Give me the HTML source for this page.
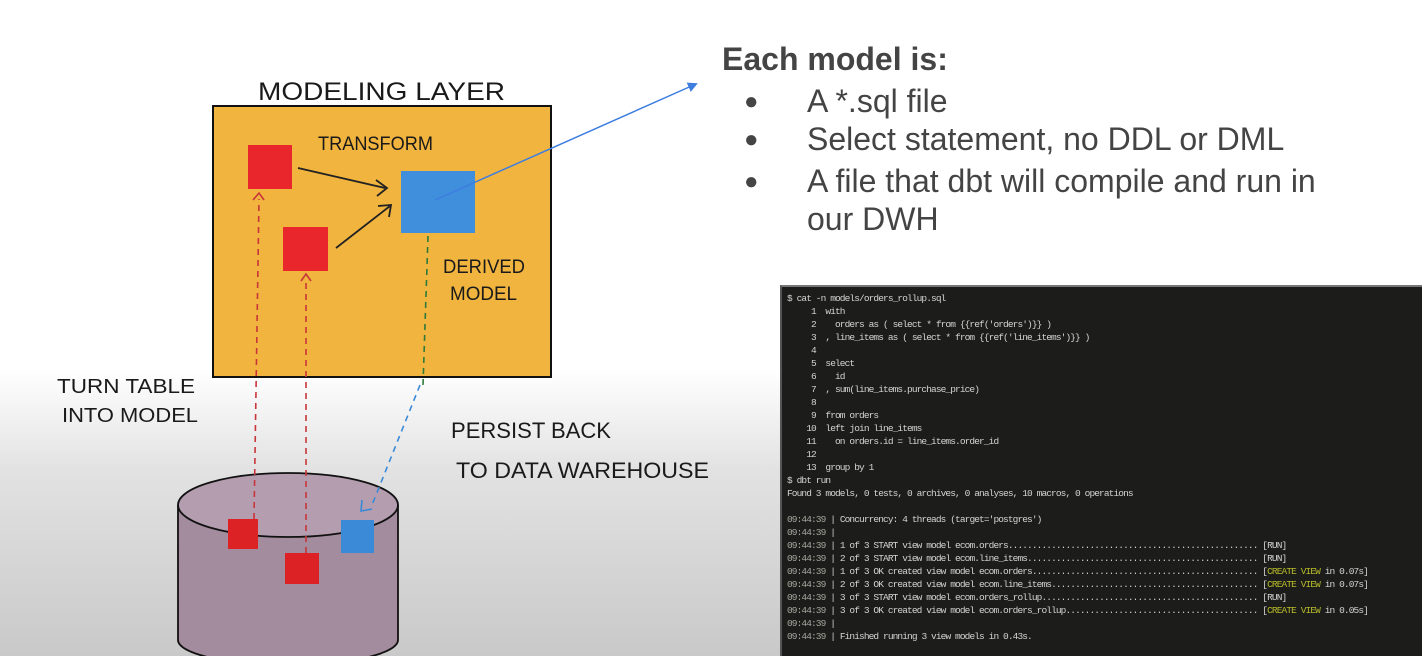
<!DOCTYPE html>
<html><head><meta charset="utf-8"><style>
html,body{margin:0;padding:0}
body{width:1422px;height:656px;overflow:hidden;position:relative;font-family:"Liberation Sans",sans-serif;
background:linear-gradient(#ffffff 0px,#ffffff 370px,#e2e2e2 470px,#c9c9c9 656px);}
svg{position:absolute;left:0;top:0}
.t{position:absolute;color:#444;font-size:32px;white-space:nowrap;line-height:1}
.b{position:absolute;color:#444;font-size:24px;line-height:1}
.term{position:absolute;left:780px;top:285px;width:642px;height:371px;background:#1c1c1a;border-left:2px solid #555;border-top:2px solid #777;box-sizing:border-box}
.term pre{margin:0;padding:5px 0 0 5px;font-family:"Liberation Mono",monospace;font-size:9.5px;letter-spacing:-0.9px;line-height:13px;color:#d4d4d4}
.g{color:#a8a8a0}.y{color:#b8bc2a}
</style></head><body>
<svg width="1422" height="656" viewBox="0 0 1422 656">
<defs>
<marker id="ab" markerWidth="10" markerHeight="10" refX="8" refY="5" orient="auto" markerUnits="userSpaceOnUse"><path d="M0,0 L10,5 L0,10 z" fill="#3d7de0"/></marker>
</defs>
<rect x="213" y="106" width="338" height="271" fill="#f1b43e"/>
<rect x="213" y="106" width="338" height="271" fill="none" stroke="#111" stroke-width="2"/>
<g font-family="Liberation Sans,sans-serif" fill="#1a1a1a" font-weight="normal">
<text x="258" y="100" font-size="25" textLength="247" lengthAdjust="spacingAndGlyphs">MODELING LAYER</text>
<text x="318" y="150" font-size="19" textLength="115" lengthAdjust="spacingAndGlyphs">TRANSFORM</text>
<text x="443" y="273" font-size="19" textLength="82" lengthAdjust="spacingAndGlyphs">DERIVED</text>
<text x="450" y="300" font-size="19" textLength="67" lengthAdjust="spacingAndGlyphs">MODEL</text>
<text x="57" y="393" font-size="20" textLength="138" lengthAdjust="spacingAndGlyphs">TURN TABLE</text>
<text x="62" y="422" font-size="20" textLength="136" lengthAdjust="spacingAndGlyphs">INTO MODEL</text>
<text x="451" y="438" font-size="22" textLength="160" lengthAdjust="spacingAndGlyphs">PERSIST BACK</text>
<text x="456" y="478" font-size="22" textLength="253" lengthAdjust="spacingAndGlyphs">TO DATA WAREHOUSE</text>
</g>
<rect x="248" y="145" width="44" height="44" fill="#e8262b"/>
<rect x="283" y="227" width="45" height="44" fill="#e8262b"/>
<rect x="401" y="171" width="74" height="62" fill="#3f8fdc"/>
<path d="M298,168 L385,188 M376,180 L387,188 L377,196" stroke="#222" stroke-width="1.8" fill="none"/>
<path d="M336,248 L390,206 M378,206 L391,205 L389,217" stroke="#222" stroke-width="1.8" fill="none"/>
<line x1="435" y1="200" x2="696" y2="84" stroke="#3d7de0" stroke-width="1.5" marker-end="url(#ab)"/>
<path d="M178,505 L178,640 A110,25 0 0 0 398,640 L398,505 Z" fill="#a38c9e"/>
<ellipse cx="288" cy="505" rx="110" ry="32" fill="#b39daf" stroke="#111" stroke-width="1.8"/>
<path d="M178,505 L178,640 A110,25 0 0 0 398,640 L398,505" fill="none" stroke="#111" stroke-width="1.8"/>
<rect x="228" y="519" width="30" height="30" fill="#dd2226"/>
<rect x="285" y="553" width="34" height="31" fill="#dd2226"/>
<rect x="341" y="520" width="33" height="33" fill="#3a8ad8"/>
<g stroke-dasharray="6,5" fill="none" stroke-width="1.6">
<path d="M254,519 L259,199" stroke="#c8353a"/>
<path d="M306,553 L306,281" stroke="#c8353a"/>
<path d="M428,236 L423,385" stroke="#2f7a3a"/>
<path d="M420,385 L372,505" stroke="#3a8ad8"/>
</g>
<path d="M253,200 L259,193 L264,200" stroke="#c8353a" stroke-width="1.6" fill="none"/>
<path d="M301,281 L306,274 L311,281" stroke="#c8353a" stroke-width="1.6" fill="none"/>
<path d="M362,500 L361,511 L372,509" stroke="#3a8ad8" stroke-width="1.6" fill="none"/>
</svg>
<div class="t" style="left:722px;top:43px;font-weight:bold;font-size:32px">Each model is:</div>
<div class="b" style="left:744px;top:90px">●</div>
<div class="t" style="left:807px;top:85px">A *.sql file</div>
<div class="b" style="left:744px;top:128px">●</div>
<div class="t" style="left:807px;top:123px">Select statement, no DDL or DML</div>
<div class="b" style="left:744px;top:170px">●</div>
<div class="t" style="left:807px;top:165px">A file that dbt will compile and run in</div>
<div class="t" style="left:807px;top:203px">our DWH</div>
<div class="term"><pre>$ cat -n models/orders_rollup.sql
     1  with
     2    orders as ( select * from {{ref('orders')}} )
     3  , line_items as ( select * from {{ref('line_items')}} )
     4
     5  select
     6    id
     7  , sum(line_items.purchase_price)
     8
     9  from orders
    10  left join line_items
    11    on orders.id = line_items.order_id
    12
    13  group by 1
$ dbt run
Found 3 models, 0 tests, 0 archives, 0 analyses, 10 macros, 0 operations

<span class="g">09:44:39</span> | Concurrency: 4 threads (target='postgres')
<span class="g">09:44:39</span> |
<span class="g">09:44:39</span> | 1 of 3 START view model ecom.orders.................................................... [RUN]
<span class="g">09:44:39</span> | 2 of 3 START view model ecom.line_items................................................ [RUN]
<span class="g">09:44:39</span> | 1 of 3 OK created view model ecom.orders............................................... [<span class="y">CREATE VIEW</span> in 0.07s]
<span class="g">09:44:39</span> | 2 of 3 OK created view model ecom.line_items........................................... [<span class="y">CREATE VIEW</span> in 0.07s]
<span class="g">09:44:39</span> | 3 of 3 START view model ecom.orders_rollup............................................. [RUN]
<span class="g">09:44:39</span> | 3 of 3 OK created view model ecom.orders_rollup........................................ [<span class="y">CREATE VIEW</span> in 0.05s]
<span class="g">09:44:39</span> |
<span class="g">09:44:39</span> | Finished running 3 view models in 0.43s.</pre></div>
</body></html>
